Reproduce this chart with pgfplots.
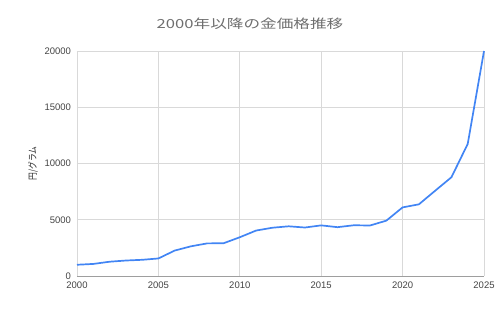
\documentclass[border=0pt]{standalone}
\usepackage{fontspec}
\setmainfont{Liberation Sans}
\newfontfamily\jp{Noto Sans CJK JP}
\usepackage{pgfplots}
\pgfplotsset{compat=1.18}
\definecolor{seriesblue}{HTML}{4285F4}
\definecolor{gridgray}{HTML}{D9D9D9}
\definecolor{basegray}{HTML}{9E9E9E}
\definecolor{ticktext}{HTML}{444444}
\definecolor{titlegray}{HTML}{6E6E6E}
\pgfplotstableread{
year price
2000 1000
2001 1073
2002 1270
2003 1376
2004 1440
2005 1560
2006 2260
2007 2640
2008 2900
2009 2910
2010 3445
2011 4040
2012 4291
2013 4418
2014 4310
2015 4500
2016 4340
2017 4510
2018 4490
2019 4920
2020 6100
2021 6370
2022 7580
2023 8780
2024 11740
2025 20000
}\gold
\begin{document}
\begin{tikzpicture}[x=1pt,y=1pt]
\useasboundingbox (-77,-33) rectangle (423,276);
\begin{axis}[
  at={(0pt,0pt)}, anchor=south west,
  scale only axis, width=407pt, height=225pt,
  xmin=2000, xmax=2025, ymin=0, ymax=20000,
  xtick={2000,2005,2010,2015,2020,2025},
  ytick={0,5000,10000,15000,20000},
  scaled ticks=false,
  grid=major,
  major grid style={color=gridgray, line width=0.8pt},
  axis line style={draw=none},
  major tick length=0pt,
  /pgf/number format/assume math mode=true,
  /pgf/number format/1000 sep={},
  ticklabel style={font=\fontsize{9.5}{10}\selectfont, text=ticktext},
  yticklabel style={xshift=-2.5pt},
  xticklabel style={yshift=-2pt},
  clip=false,
]
\addplot[color=seriesblue, line width=1.7pt, line join=round, mark=none] table[x=year, y=price] {\gold};
\draw[basegray, line width=1pt] (axis cs:2000,0) -- (axis cs:2025,0);
\end{axis}
\node[text=titlegray, inner sep=0pt] at (173,252) {\jp\fontsize{12.5}{13}\selectfont\scalebox{1.33}[1]{2000年以降の金価格推移}};
\node[rotate=90, text=black!85, inner sep=0pt] at (-44,112.5) {\jp\fontsize{9.5}{10}\selectfont\scalebox{0.82}[1]{円/グラム}};
\end{tikzpicture}
\end{document}
